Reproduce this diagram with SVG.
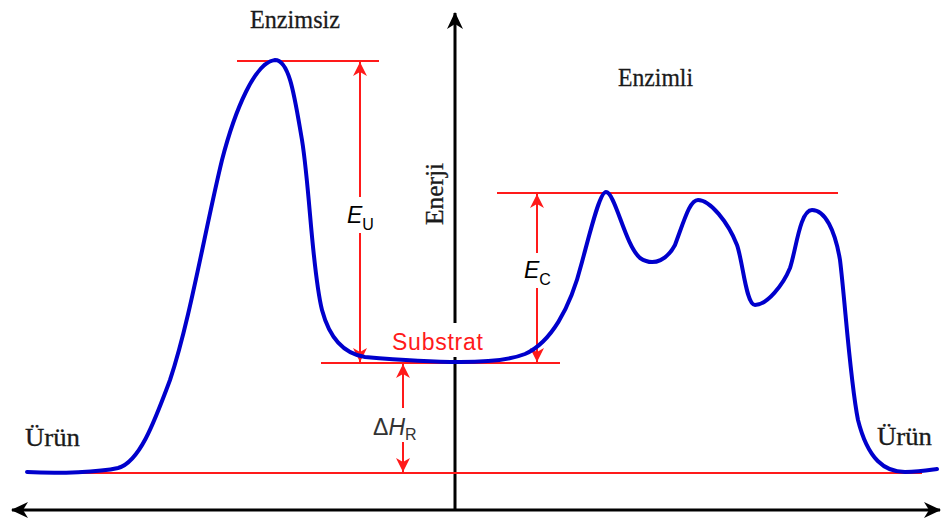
<svg xmlns="http://www.w3.org/2000/svg" width="947" height="519" viewBox="0 0 947 519">
<style>
.serif{font-family:"Liberation Serif","Times New Roman",serif;fill:#1a1a1a;stroke:#1a1a1a;stroke-width:0.3}
.sans{font-family:"Liberation Sans",Arial,sans-serif}
.red{stroke:#ff1a1a;stroke-width:2;fill:none}
.axis{stroke:#000;stroke-width:3;fill:none}
.curve{stroke:#0000cc;stroke-width:4;fill:none;stroke-linecap:round;stroke-linejoin:round}
</style>
<defs>
<marker id="ra" markerUnits="userSpaceOnUse" markerWidth="14" markerHeight="14" refX="14" refY="7" orient="auto" overflow="visible">
<path d="M0,0 L14,7 L0,14 L4,7 z" fill="#ff1a1a"/>
</marker>
<marker id="ba" markerUnits="userSpaceOnUse" markerWidth="18" markerHeight="18" refX="16" refY="8" orient="auto-start-reverse" overflow="visible">
<path d="M0,0 L17,8 L0,16 L5,8 z" fill="#000"/>
</marker>
</defs>
<rect width="947" height="519" fill="#fff"/>
<g id="axes">
<path class="axis" d="M12,510 L940,510" marker-start="url(#ba)" marker-end="url(#ba)"/>
<path class="axis" d="M455,510 L455,13" marker-end="url(#ba)"/>
</g>
<g id="levels">
<line class="red" x1="237" y1="61" x2="379" y2="61"/>
<line class="red" x1="321" y1="363" x2="560" y2="363"/>
<line class="red" x1="497" y1="193" x2="838" y2="193"/>
<line class="red" x1="80" y1="473" x2="922" y2="473"/>
</g>
<g id="connectors">
<line class="red" x1="360" y1="197" x2="360" y2="62" marker-end="url(#ra)"/>
<line class="red" x1="360" y1="233" x2="360" y2="362" marker-end="url(#ra)"/>
<line class="red" x1="537" y1="253" x2="537" y2="194" marker-end="url(#ra)"/>
<line class="red" x1="537" y1="288" x2="537" y2="362" marker-end="url(#ra)"/>
<line class="red" x1="403" y1="408" x2="403" y2="364" marker-end="url(#ra)"/>
<line class="red" x1="403" y1="442" x2="403" y2="472" marker-end="url(#ra)"/>
</g>
<g id="curve">
<path class="curve" d="M27,472 C60,474 100,472 118,468 C140,462 155,420 170,380 C190,320 205,230 222,160 C235,110 255,62 275,60 C290,60 295,100 302,140 C310,190 312,270 322,310 C330,340 345,354 365,357 C400,360 430,362 460,362 C490,362 510,360 525,354 C550,343 570,310 582,262 C592,225 600,192 606,192 C615,192 625,245 640,258 C655,268 668,258 675,245 C685,218 690,200 698,200 C710,200 728,222 737,245 C743,262 746,305 755,305 C767,305 783,285 790,268 C796,250 800,210 812,210 C825,210 835,230 840,260 C845,300 850,380 858,420 C868,460 885,472 905,472 C920,472 930,470 937,469"/>
</g>
<g id="label-substrat">
<rect x="389" y="323" width="98" height="34" fill="#fff"/>
<text class="sans" x="392" y="350" font-size="23" fill="#ff1a1a" textLength="91">Substrat</text>
</g>
<g id="label-enzimsiz"><text class="serif" x="250" y="28" font-size="25" textLength="90" lengthAdjust="spacingAndGlyphs">Enzimsiz</text></g>
<g id="label-enzimli"><text class="serif" x="618" y="86" font-size="25" textLength="75" lengthAdjust="spacingAndGlyphs">Enzimli</text></g>
<g id="label-urun-left"><text class="serif" x="25" y="446" font-size="25" textLength="55" lengthAdjust="spacingAndGlyphs">Ürün</text></g>
<g id="label-urun-right"><text class="serif" x="877" y="445" font-size="25" textLength="55" lengthAdjust="spacingAndGlyphs">Ürün</text></g>
<g id="label-enerji"><text class="serif" transform="translate(443,225) rotate(-90)" font-size="25" textLength="62" lengthAdjust="spacingAndGlyphs">Enerji</text></g>
<g id="label-eu"><text class="sans" x="347" y="223" font-size="23" font-style="italic" fill="#000">E<tspan font-size="16" font-style="normal" dy="7">U</tspan></text></g>
<g id="label-ec"><text class="sans" x="524" y="278" font-size="23" font-style="italic" fill="#000">E<tspan font-size="16" font-style="normal" dy="7">C</tspan></text></g>
<g id="label-dh"><text class="sans" x="373" y="435" font-size="23" fill="#333">Δ<tspan font-style="italic">H</tspan><tspan font-size="16" dy="5">R</tspan></text></g>
</svg>
